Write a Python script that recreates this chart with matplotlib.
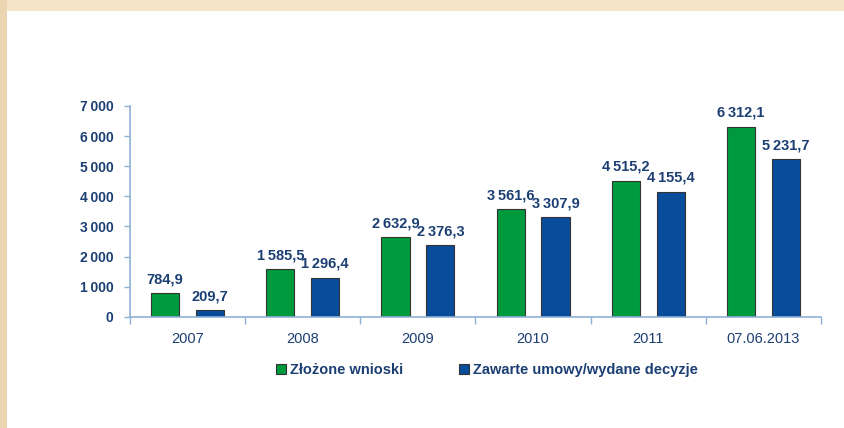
import numpy as np
import matplotlib
matplotlib.use("Agg")
import matplotlib.pyplot as plt
from matplotlib.patches import Rectangle

plt.rcParams['font.family'] = ['Liberation Sans', 'DejaVu Sans']

years = ["2007", "2008", "2009", "2010", "2011", "07.06.2013"]
wnioski = [784.9, 1585.5, 2632.9, 3561.6, 4515.2, 6312.1]
umowy = [209.7, 1296.4, 2376.3, 3307.9, 4155.4, 5231.7]
series_names = ["Złożone wnioski", "Zawarte umowy/wydane decyzje"]


def fmt(v, dec=1):
    # polish style: thin space for thousands, comma for decimals
    s = f"{v:,.{dec}f}"
    return s.replace(",", "\u2009").replace(".", ",")


navy = "#1c3f73"
axis_col = "#8fb0d6"
green = "#009a3e"
blue = "#084c9c"

fig = plt.figure(figsize=(8.44, 4.28), dpi=100)
fig.patch.set_facecolor("white")
# beige frame (top and left)
fig.add_artist(Rectangle((0, 1 - 11 / 428), 1, 11 / 428, transform=fig.transFigure,
                         facecolor="#f5e4c8", edgecolor="none"))
fig.add_artist(Rectangle((0, 0), 7 / 844, 1, transform=fig.transFigure,
                         facecolor="#ecd6b2", edgecolor="none"))

ax = fig.add_axes([130 / 844, 1 - 316.7 / 428, 691 / 844, 210.7 / 428])
x = np.arange(len(years))
off, w = 0.195, 0.245
b1 = ax.bar(x - off, wnioski, w, color=green, edgecolor="#333333", linewidth=0.8,
            label=series_names[0])
b2 = ax.bar(x + off, umowy, w, color=blue, edgecolor="#333333", linewidth=0.8,
            label=series_names[1])

for bars, vals in ((b1, wnioski), (b2, umowy)):
    for r, v in zip(bars, vals):
        ax.annotate(fmt(v), (r.get_x() + r.get_width() / 2, v), xytext=(0, 5),
                    textcoords="offset points", ha="center", va="bottom",
                    fontsize=10.5, fontweight="bold", color=navy)

ax.set_xlim(-0.5, 5.5)
ax.set_ylim(0, 7000)
yt = np.arange(0, 7001, 1000)
ax.set_yticks(yt)
ax.set_yticklabels([fmt(v, 0) for v in yt])
ax.set_xticks(x)
ax.set_xticklabels(years)
ax.set_xticks(np.arange(-0.5, 6, 1), minor=True)
ax.tick_params(axis="x", which="major", length=0, pad=11, labelsize=10.5, labelcolor=navy)
ax.tick_params(axis="x", which="minor", length=5, color=axis_col, width=1)
ax.tick_params(axis="y", length=4, color=axis_col, width=1, pad=8, labelsize=10,
               labelcolor=navy)
for lab in ax.get_yticklabels():
    lab.set_fontweight("bold")
for s in ("top", "right"):
    ax.spines[s].set_visible(False)
for s in ("left", "bottom"):
    ax.spines[s].set_color(axis_col)
    ax.spines[s].set_linewidth(1.2)

leg = fig.legend(handles=[b1, b2], loc="center", bbox_to_anchor=(487 / 844, 1 - 370 / 428),
                 ncol=2, frameon=False, handlelength=0.7, handleheight=0.7,
                 handletextpad=0.3, columnspacing=3.8,
                 prop={"size": 10.5, "weight": "bold"})
for t in leg.get_texts():
    t.set_color(navy)

fig.savefig("out.png", dpi=100)
